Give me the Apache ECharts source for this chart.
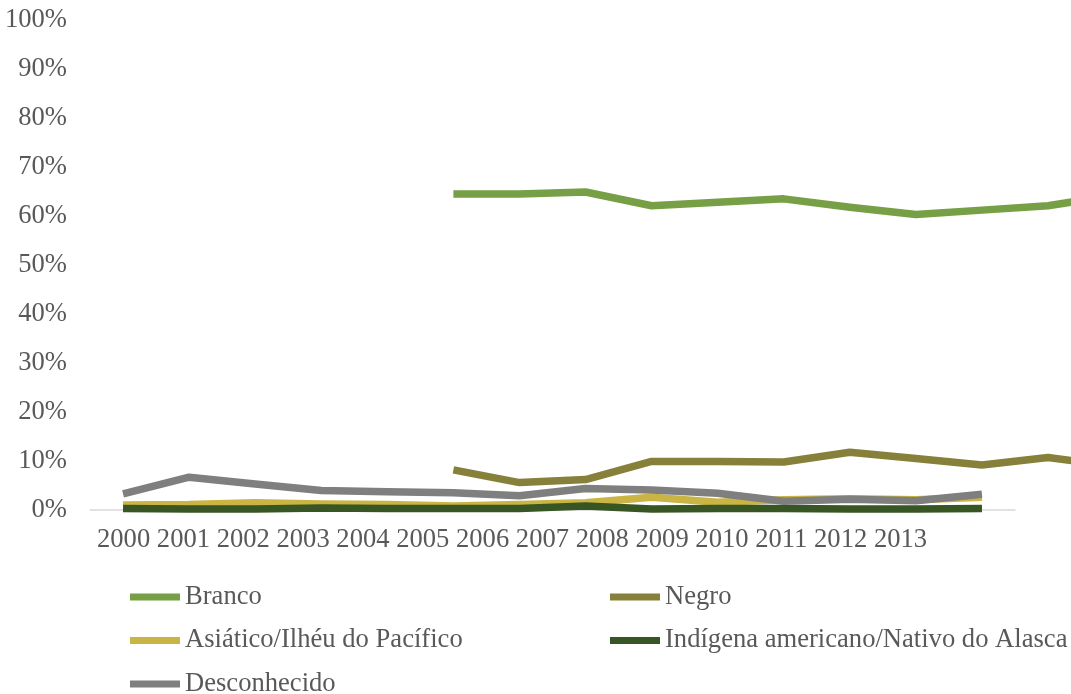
<!DOCTYPE html>
<html>
<head>
<meta charset="utf-8">
<script src="https://cdn.jsdelivr.net/npm/echarts@6/dist/echarts.min.js"></script>
<style>
  html, body { margin: 0; padding: 0; background: #ffffff; }
  #chart { width: 1071px; height: 694px; }
</style>
</head>
<body>
<div id="chart"></div>
<script>
// Category labels (the visible year row)
const years = ['2000', '2001', '2002', '2003', '2004', '2005', '2006',
               '2007', '2008', '2009', '2010', '2011', '2012', '2013'];
// Positions used by the two series that run past the last label
const extendedYears = years.concat(['2014', '2015']);

// Shares in percent
const branco = [null, null, null, null, null,
                64.5, 64.5, 64.9, 62.1, 62.8, 63.5, 61.8, 60.3, 61.2, 62.1, 64.2];
const negro = [null, null, null, null, null,
               8.2, 5.6, 6.2, 9.9, 9.9, 9.8, 11.8, 10.5, 9.2, 10.7, 9.0];
const asiatico = [1.0, 1.1, 1.5, 1.2, 1.1, 0.8, 1.1, 1.5, 2.6, 1.6, 2.1, 2.3, 2.1, 2.6];
const indigena = [0.3, 0.2, 0.2, 0.4, 0.3, 0.3, 0.3, 0.8, 0.2, 0.3, 0.3, 0.2, 0.2, 0.3];
const desconhecido = [3.3, 6.7, 5.3, 4.0, 3.7, 3.5, 2.9, 4.4, 4.1, 3.4, 1.8, 2.2, 1.9, 3.2];

const yTicks = { min: 0, max: 100, interval: 10 };

const FONT = 'Liberation Serif';
const TEXT_COLOR = '#595959';
const FS = 26.6;

const plotLeft = 90, plotTop = 20, plotWidth = 925, plotHeight = 490;
const band = plotWidth / years.length;

function lineSeries(name, data, color, axisIdx) {
  return {
    name: name,
    type: 'line',
    data: data,
    xAxisIndex: axisIdx,
    yAxisIndex: axisIdx,
    symbol: 'none',
    showSymbol: false,
    connectNulls: false,
    lineStyle: { color: color, width: 7.5, cap: 'butt', join: 'round' },
    itemStyle: { color: color }
  };
}

// One legend block per entry, laid out in two columns
function legendItem(name, left, top) {
  return {
    left: left,
    top: top,
    padding: 0,
    orient: 'horizontal',
    icon: 'rect',
    itemWidth: 50,
    itemHeight: 7,
    data: [name],
    textStyle: { fontFamily: FONT, fontSize: FS, color: TEXT_COLOR, lineHeight: 30 },
    selectedMode: false
  };
}

const chart = echarts.init(document.getElementById('chart'), null, { renderer: 'canvas' });

chart.setOption({
  animation: false,
  backgroundColor: '#ffffff',
  grid: [
    { left: plotLeft, top: plotTop, width: plotWidth, height: plotHeight, outerBoundsMode: 'none' },
    // same band width, wider span: runs past the right edge of the page
    { left: plotLeft, top: plotTop, width: band * extendedYears.length, height: plotHeight, outerBoundsMode: 'none' }
  ],
  xAxis: [
    {
      gridIndex: 0, type: 'category', data: years, boundaryGap: true,
      axisLine: { show: true, lineStyle: { color: '#D9D9D9', width: 1.5 } },
      axisTick: { show: false },
      axisLabel: { show: false },
      splitLine: { show: false }
    },
    { gridIndex: 1, type: 'category', data: extendedYears, boundaryGap: true, show: false }
  ],
  yAxis: [
    {
      gridIndex: 0, type: 'value', min: yTicks.min, max: yTicks.max, interval: yTicks.interval,
      axisLine: { show: false }, axisTick: { show: false }, splitLine: { show: false },
      axisLabel: { formatter: '{value}%', margin: 23, fontFamily: FONT, fontSize: FS, color: TEXT_COLOR }
    },
    { gridIndex: 1, type: 'value', min: yTicks.min, max: yTicks.max, show: false }
  ],
  legend: [
    legendItem('Branco', 130, 582),
    legendItem('Negro', 610, 582),
    legendItem('Asiático/Ilhéu do Pacífico', 130, 625.5),
    legendItem('Indígena americano/Nativo do Alasca', 610, 625.5),
    legendItem('Desconhecido', 130, 669)
  ],
  graphic: [
    {
      type: 'text',
      x: 97,
      y: 540,
      silent: true,
      style: {
        text: years.join(' '),
        fontFamily: FONT,
        fontSize: FS,
        fill: TEXT_COLOR,
        align: 'left',
        verticalAlign: 'middle'
      }
    }
  ],
  series: [
    lineSeries('Branco', branco, '#779F45', 1),
    lineSeries('Negro', negro, '#86803A', 1),
    lineSeries('Asiático/Ilhéu do Pacífico', asiatico, '#CAB544', 0),
    lineSeries('Indígena americano/Nativo do Alasca', indigena, '#375623', 0),
    lineSeries('Desconhecido', desconhecido, '#7F7F7F', 0)
  ]
});
</script>
</body>
</html>
